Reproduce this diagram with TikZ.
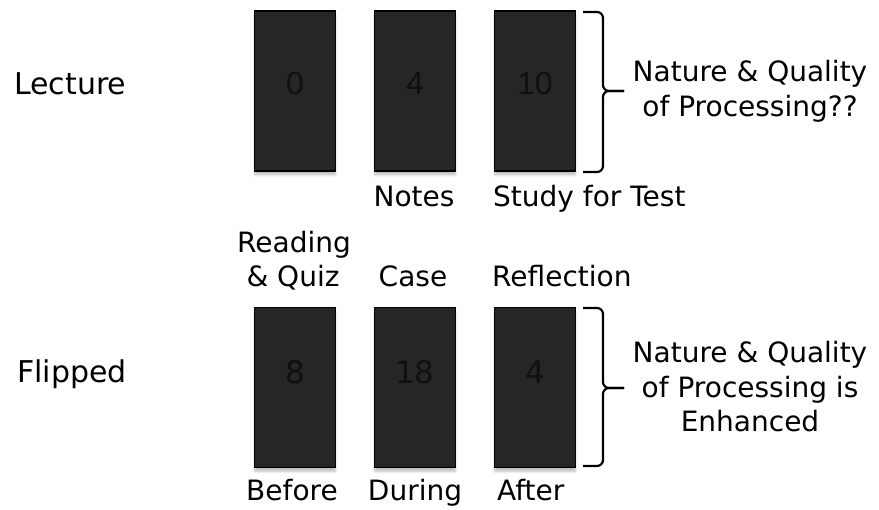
\documentclass[tikz,border=0pt]{standalone}
\usepackage{fontspec}
\setmainfont{DejaVu Sans}
\newfontfamily\numfont{Liberation Sans}
\usetikzlibrary{shadows.blur}
\definecolor{boxfill}{HTML}{262626}
\definecolor{numcol}{HTML}{101010}
\begin{document}
\begin{tikzpicture}[x=1pt,y=1pt,
  box/.style={draw=black, line width=1.6pt, fill=boxfill, minimum width=81pt, minimum height=160pt,
    inner sep=0pt,
    blur shadow={shadow xshift=0pt, shadow yshift=-4pt, shadow blur steps=6, shadow opacity=25}},
  topnum/.style={font=\numfont\fontsize{32}{36}\selectfont, text=numcol, inner sep=0pt},
  botnum/.style={font=\fontsize{31}{36}\selectfont, text=numcol, inner sep=0pt},
  lbl/.style={font=\fontsize{28}{34}\selectfont, inner sep=0pt, anchor=base},
  rowlbl/.style={font=\fontsize{30}{34}\selectfont, inner sep=0pt, anchor=base west},
  brace/.style={line width=2.2pt, rounded corners=6pt}]
\useasboundingbox (0,0) rectangle (879,-510);
% row labels
\node[rowlbl] (lec) at (14,-95) {Lecture};
\node[rowlbl] (flp) at (17,-383) {Flipped};
% top boxes
\node[box] (l1) at (295,-91) {};
\node[box] (l2) at (415,-91) {};
\node[box] (l3) at (535,-91) {};
\node[topnum] (n1) at ([yshift=7.5pt]l1.center) {0};
\node[topnum] (n2) at ([yshift=7.5pt]l2.center) {4};
\node[topnum] (n3) at ([yshift=7.5pt]l3.center) {10};
% bottom boxes
\node[box] (f1) at (295,-387.5) {};
\node[box] (f2) at (415,-387.5) {};
\node[box] (f3) at (535,-387.5) {};
\node[botnum] (m1) at ([yshift=15.5pt]f1.center) {8};
\node[botnum] (m2) at ([yshift=15.5pt]f2.center) {18};
\node[botnum] (m3) at ([yshift=15.5pt]f3.center) {4};
% labels under top boxes
\node[lbl] (notes) at (414,-207) {Notes};
\node[lbl, anchor=base west] (study) at (493,-207) {Study for Test};
% labels above bottom boxes
\node[lbl] (read1) at (294,-253) {Reading};
\node[lbl] (read2) at (293,-287) {\& Quiz};
\node[lbl] (case) at (413,-287) {Case};
\node[lbl, anchor=base west] (refl) at (492,-287) {Reflection};
% labels under bottom boxes
\node[lbl] (before) at (292,-501) {Before};
\node[lbl] (during) at (415,-501) {During};
\node[lbl, anchor=base west] (after) at (497,-501) {After};
% brace top
\coordinate (bt1) at (583,-12);
\coordinate (bt2) at (583,-172);
\coordinate (btip) at (624,-91);
\draw[brace] (bt1) -- (603,-12) -- (603,-91) -- (btip);
\draw[brace] (bt2) -- (603,-172) -- (603,-91) -- (btip);
% brace bottom
\coordinate (bb1) at (583,-308);
\coordinate (bb2) at (583,-466);
\coordinate (bbtip) at (624,-388);
\draw[brace] (bb1) -- (603,-308) -- (603,-388) -- (bbtip);
\draw[brace] (bb2) -- (603,-466) -- (603,-388) -- (bbtip);
% right texts
\node[lbl] (nq1a) at (750,-82) {Nature \& Quality};
\node[lbl] (nq1b) at (750,-117) {of Processing??};
\node[lbl] (nq2a) at (750,-363) {Nature \& Quality};
\node[lbl] (nq2b) at (750,-398) {of Processing is};
\node[lbl] (nq2c) at (750,-432) {Enhanced};
\end{tikzpicture}
\end{document}
